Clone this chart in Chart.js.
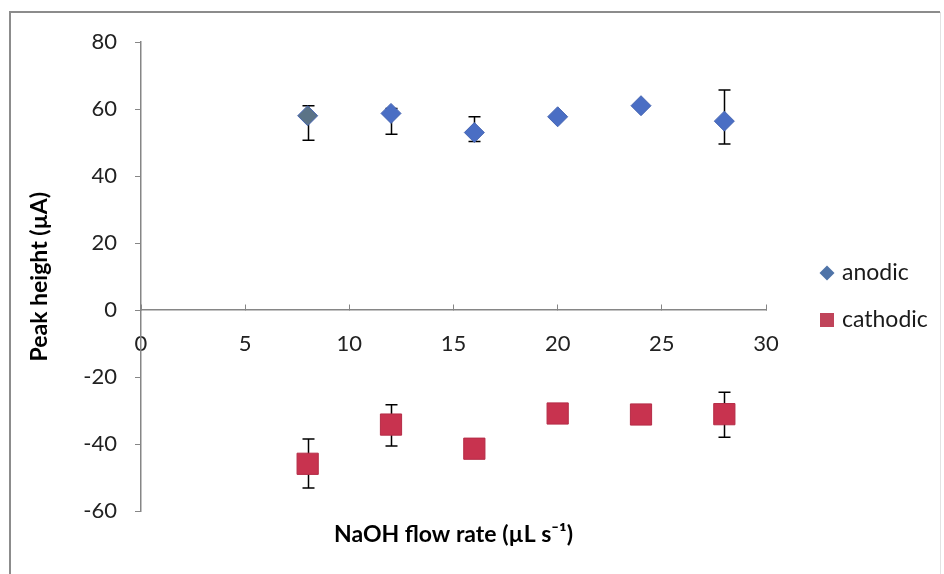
<!DOCTYPE html>
<html>
<head>
<meta charset="utf-8">
<script src="https://cdn.jsdelivr.net/npm/chart.js@4.4.0/dist/chart.umd.min.js"></script>
<style>
  html, body { margin: 0; padding: 0; background: #fff; }
  #wrap { width: 944px; height: 574px; }
</style>
</head>
<body>
<div id="wrap"><canvas id="peakChart" width="944" height="574"></canvas></div>
<script>
// NaOH flow rate (µL/s) vs peak height (µA), mean with error bars
const flowRates = [8, 12, 16, 20, 24, 28];

const anodic = [58, 58.7, 53, 57.7, 61, 56.4];
const anodicErrUp = [3, 1.5, 4.7, 0, 0, 9.3];
const anodicErrDown = [7.3, 6.2, 2.7, 0, 0, 6.8];

const cathodic = [-45.8, -34.1, -41.3, -30.8, -31.1, -31];
const cathodicErrUp = [7.4, 5.9, 0, 0, 0, 6.5];
const cathodicErrDown = [7.2, 6.4, 0, 0, 0, 6.9];

const xTicks = [0, 5, 10, 15, 20, 25, 30];
const yTicks = [-60, -40, -20, 0, 20, 40, 60, 80];

const FONT = 'Lato, "Open Sans", sans-serif';
const AXIS_GREY = '#868686';

function toPoints(ys) {
  return flowRates.map((x, i) => ({ x: x, y: ys[i] }));
}

// vertical error bars with caps, drawn under the markers
const errorBars = {
  id: 'errorBars',
  beforeDatasetsDraw(chart) {
    const ctx = chart.ctx;
    const yScale = chart.scales.y;
    ctx.save();
    ctx.strokeStyle = '#000';
    ctx.lineWidth = 1.5;
    chart.data.datasets.forEach((ds, di) => {
      const meta = chart.getDatasetMeta(di);
      meta.data.forEach((pt, i) => {
        const up = ds.errUp[i], down = ds.errDown[i];
        if (!up && !down) return;
        const v = ds.data[i].y;
        const x = Math.round(pt.x) + 0.5;
        const yTop = yScale.getPixelForValue(v + up);
        const yBot = yScale.getPixelForValue(v - down);
        ctx.beginPath();
        ctx.moveTo(x, yTop);
        ctx.lineTo(x, yBot);
        ctx.moveTo(x - 6, yTop);
        ctx.lineTo(x + 6, yTop);
        ctx.moveTo(x - 6, yBot);
        ctx.lineTo(x + 6, yBot);
        ctx.stroke();
      });
    });
    ctx.restore();
  }
};

// white background and the outer chart frame
const frame = {
  id: 'frame',
  beforeDraw(chart) {
    const ctx = chart.ctx;
    ctx.save();
    ctx.fillStyle = '#fff';
    ctx.fillRect(0, 0, chart.width, chart.height);
    ctx.strokeStyle = '#8c8c8c';
    ctx.lineWidth = 2;
    ctx.beginPath();
    ctx.moveTo(10, chart.height + 2);
    ctx.lineTo(10, 12);
    ctx.lineTo(chart.width - 4, 12);
    ctx.stroke();
    ctx.strokeStyle = '#e2e2e2';
    ctx.lineWidth = 1;
    ctx.beginPath();
    ctx.moveTo(940.5, 12);
    ctx.lineTo(940.5, chart.height);
    ctx.stroke();
    ctx.restore();
  }
};

// series key to the right of the plot
const sideLegend = {
  id: 'sideLegend',
  afterDraw(chart, args, opts) {
    const ctx = chart.ctx;
    const area = chart.chartArea;
    ctx.save();
    ctx.font = opts.size + 'px ' + FONT;
    ctx.textBaseline = 'middle';
    ctx.textAlign = 'left';
    chart.data.datasets.forEach((ds, i) => {
      const cx = area.right + opts.offsetX;
      const cy = opts.top + i * opts.spacing;
      ctx.fillStyle = opts.colors[i];
      ctx.beginPath();
      if (ds.pointStyle === 'rectRot') {
        const r = 7.5;
        ctx.moveTo(cx, cy - r);
        ctx.lineTo(cx + r, cy);
        ctx.lineTo(cx, cy + r);
        ctx.lineTo(cx - r, cy);
      } else {
        ctx.rect(cx - 7, cy - 7, 14, 14);
      }
      ctx.closePath();
      ctx.fill();
      ctx.fillStyle = '#1a1a1a';
      ctx.fillText(ds.label, cx + 15, cy);
    });
    ctx.restore();
  }
};

new Chart(document.getElementById('peakChart'), {
  type: 'scatter',
  data: {
    datasets: [
      {
        label: 'anodic',
        data: toPoints(anodic),
        errUp: anodicErrUp,
        errDown: anodicErrDown,
        pointStyle: 'rectRot',
        pointRadius: 10,
        pointHoverRadius: 10,
        backgroundColor: ['#5b7387', '#4a6ec4', '#4a6ec4', '#4a6ec4', '#4a6ec4', '#4a6ec4'],
        borderColor: '#4766b3',
        borderWidth: 1
      },
      {
        label: 'cathodic',
        data: toPoints(cathodic),
        errUp: cathodicErrUp,
        errDown: cathodicErrDown,
        pointStyle: 'rect',
        pointRadius: 15,
        pointHoverRadius: 15,
        backgroundColor: '#c8334f',
        borderColor: '#b52c46',
        borderWidth: 1
      }
    ]
  },
  options: {
    responsive: false,
    animation: false,
    events: [],
    layout: { padding: { left: 0, top: 42, right: 178, bottom: 0 } },
    plugins: {
      tooltip: { enabled: false },
      legend: { display: false },
      sideLegend: {
        size: 23,
        offsetX: 61,
        top: 273,
        spacing: 47,
        colors: ['#4f74a8', '#c0445a']
      },
      title: {
        display: true,
        position: 'bottom',
        fullSize: false,
        text: 'NaOH flow rate (µL s⁻¹)',
        color: '#000',
        font: { family: FONT, size: 23, weight: 'bold' },
        padding: { top: 9, bottom: 26 }
      }
    },
    scales: {
      x: {
        type: 'linear',
        min: 0,
        max: 30,
        position: { y: 0 },
        afterBuildTicks(scale) {
          scale.ticks = xTicks.map(v => ({ value: v }));
        },
        ticks: {
          color: '#222',
          font: { family: FONT, size: 22 },
          padding: 26,
          maxRotation: 0
        },
        grid: { drawOnChartArea: false, drawTicks: true, tickLength: -6, color: AXIS_GREY, lineWidth: 1 },
        border: { display: true, color: AXIS_GREY, width: 1.5 }
      },
      y: {
        type: 'linear',
        min: -60,
        max: 80,
        afterBuildTicks(scale) {
          scale.ticks = yTicks.map(v => ({ value: v }));
        },
        afterFit(scale) {
          scale.width = 141;
        },
        ticks: {
          color: '#222',
          font: { family: FONT, size: 22 },
          padding: 18
        },
        grid: { drawOnChartArea: false, drawTicks: true, tickLength: 6, color: AXIS_GREY, lineWidth: 1 },
        border: { display: true, color: AXIS_GREY, width: 1.5 },
        title: {
          display: true,
          text: 'Peak height (µA)',
          color: '#000',
          font: { family: FONT, size: 23, weight: 'bold' },
          padding: { top: 26, bottom: 0 }
        }
      }
    }
  },
  plugins: [frame, errorBars, sideLegend]
});
</script>
</body>
</html>
